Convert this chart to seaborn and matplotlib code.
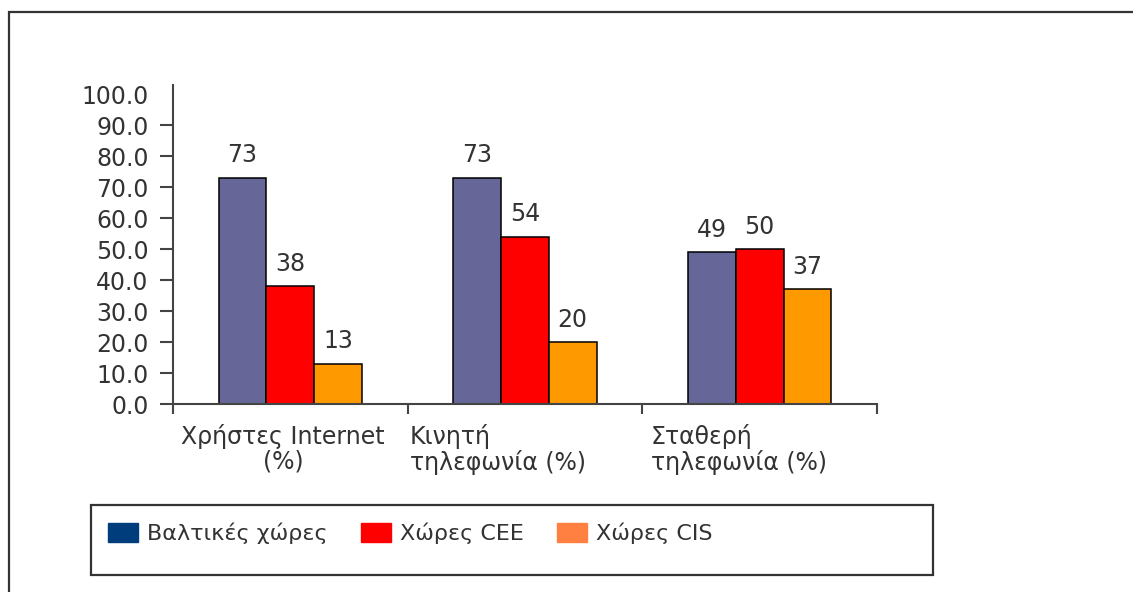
import matplotlib
matplotlib.use("Agg")
import matplotlib.pyplot as plt
from matplotlib.patches import Patch, Rectangle
import seaborn as sns
import pandas as pd

categories = ["Χρήστες Internet\n(%)", "Κινητή\nτηλεφωνία (%)", "Σταθερή\nτηλεφωνία (%)"]
groups = ["Βαλτικές χώρες", "Χώρες CEE", "Χώρες CIS"]
baltic = [73, 73, 49]
cee = [38, 54, 50]
cis = [13, 20, 37]
yticks = [0, 10, 20, 30, 40, 50, 60, 70, 80, 90, 100]

bar_colors = ["#666699", "#ff0000", "#ff9900"]
legend_colors = ["#003d7d", "#ff0000", "#ff8040"]

rows = []
for g, vals in zip(groups, [baltic, cee, cis]):
    for c, v in zip(categories, vals):
        rows.append({"cat": c, "group": g, "value": v})
df = pd.DataFrame(rows)

sns.set_theme(style="white")
plt.rcParams["font.family"] = ["DejaVu Sans"]
txt = "#333333"
fs = 17

fig = plt.figure(figsize=(11.33, 5.92), dpi=100)
ax = fig.add_axes([173 / 1133, 1 - 404 / 592, 704 / 1133, 319 / 592])

sns.barplot(data=df, x="cat", y="value", hue="group", palette=bar_colors,
            saturation=1, width=0.61, edgecolor="black", linewidth=1.1,
            legend=False, ax=ax)

for cont in ax.containers:
    ax.bar_label(cont, fmt="%d", padding=7.5, fontsize=fs, color=txt)

ax.set_xlim(-0.5, 2.5)
ax.set_ylim(0, 103)
ax.set_yticks(yticks)
ax.set_yticklabels([f"{t:.1f}" for t in yticks], fontsize=fs, color=txt)
ax.tick_params(axis="y", length=9.5, width=1.5, color="#444444", pad=8, left=True)
ax.yaxis.get_major_ticks()[-1].tick1line.set_visible(False)

ax.set_xticks([0, 1, 2])
ax.set_xticklabels([])
ax.tick_params(axis="x", which="major", length=0)
ax.set_xticks([-0.5, 0.5, 1.5, 2.5], minor=True)
ax.tick_params(axis="x", which="minor", length=7, width=1.5, color="#444444", bottom=True)
ax.set_xlabel("")
ax.set_ylabel("")

for s in ["top", "right"]:
    ax.spines[s].set_visible(False)
for s in ["left", "bottom"]:
    ax.spines[s].set_color("#444444")
    ax.spines[s].set_linewidth(1.5)

# category labels under the axis
xt = ax.get_xaxis_transform()
label_x = [-0.03, 0.51, 1.535]
aligns = [("center", "center"), ("left", "left"), ("left", "left")]
for x, lab, (ha, ma) in zip(label_x, categories, aligns):
    ax.text(x, -0.062, lab, transform=xt, ha=ha, va="top", ma=ma,
            fontsize=fs, color=txt, linespacing=1.05)

# outer frame
fig.patches.append(Rectangle((9 / 1133, -0.1), 1.2, 1.1 - 12 / 592,
                             transform=fig.transFigure, fill=False,
                             edgecolor="#333333", linewidth=1.6))
# legend box
fig.patches.append(Rectangle((91 / 1133, 1 - 575 / 592), 842 / 1133, 70 / 592,
                             transform=fig.transFigure, fill=False,
                             edgecolor="#333333", linewidth=1.6))

handles = [Patch(facecolor=c, edgecolor=c) for c in legend_colors]
fig.legend(handles, groups, loc="center left",
           bbox_to_anchor=(88 / 1133, 1 - 533 / 592), frameon=False,
           ncol=3, fontsize=16, handlelength=1.35, handleheight=0.95,
           handletextpad=0.4, columnspacing=1.5, labelcolor=txt)

plt.savefig("out.png", dpi=100, facecolor="white")
